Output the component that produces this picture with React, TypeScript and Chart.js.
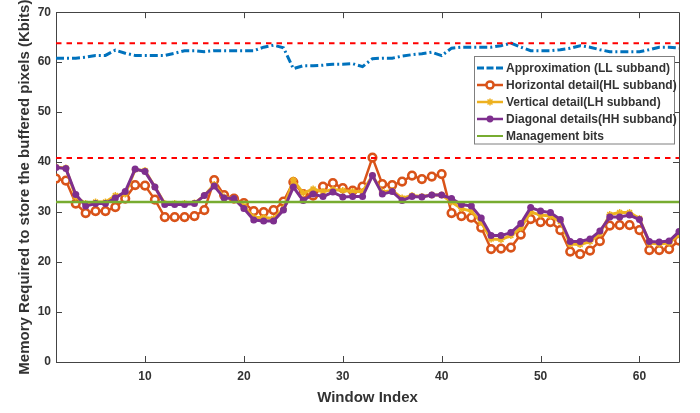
import React, { useEffect, useRef } from 'react';
import { Chart, registerables } from 'chart.js';

Chart.register(...registerables);

const windowIndex = [
  1, 2, 3, 4, 5, 6, 7, 8, 9, 10, 11, 12, 13, 14, 15, 16, 17, 18, 19, 20, 21, 22, 23, 24, 25, 26, 27, 28, 29, 30, 31, 32,
  33, 34, 35, 36, 37, 38, 39, 40, 41, 42, 43, 44, 45, 46, 47, 48, 49, 50, 51, 52, 53, 54, 55, 56, 57, 58, 59, 60, 61, 62, 63, 64,
];

const llValues = [
  60.8, 60.8, 60.8, 61.0, 61.35, 61.35, 62.4, 61.8, 61.35, 61.35, 61.35, 61.35, 61.8, 62.3, 62.3, 62.1,
  62.3, 62.3, 62.3, 62.3, 62.3, 63.0, 63.4, 62.9, 58.7, 59.3, 59.3, 59.4, 59.6, 59.6, 59.7, 59.1,
  60.7, 60.8, 60.8, 61.2, 61.5, 61.7, 62.0, 61.3, 62.8, 63.0, 63.0, 63.0, 63.0, 63.3, 63.8, 63.0,
  62.3, 62.3, 62.3, 62.5, 62.8, 63.3, 63.0, 62.5, 62.1, 62.1, 62.1, 62.1, 62.5, 63.0, 63.0, 62.8,
];

const hlValues = [
  36.7, 36.3, 31.7, 29.8, 30.2, 30.2, 31.0, 32.7, 35.4, 35.3, 32.5, 29.0, 29.0, 29.0, 29.2, 30.4,
  36.4, 33.4, 32.7, 31.8, 30.2, 30.0, 30.4, 32.1, 36.0, 33.6, 33.3, 35.1, 35.8, 34.8, 34.3, 35.1,
  40.9, 35.6, 35.4, 36.1, 37.3, 36.6, 37.1, 37.6, 29.8, 29.2, 28.9, 26.9, 22.6, 22.7, 22.9, 25.5,
  28.6, 28.0, 28.0, 26.4, 22.1, 21.6, 22.3, 24.2, 27.3, 27.4, 27.4, 26.4, 22.4, 22.4, 22.6, 24.3,
];

const lhValues = [
  39.0, 38.8, 33.0, 31.7, 32.0, 32.0, 33.3, 33.6, 38.5, 38.3, 35.0, 31.7, 31.7, 31.7, 31.8, 33.3,
  35.5, 33.0, 32.7, 31.2, 28.9, 28.9, 28.7, 30.7, 36.4, 33.8, 34.6, 34.1, 34.5, 34.3, 34.1, 34.1,
  37.3, 34.0, 34.3, 32.8, 33.3, 33.1, 33.4, 33.4, 32.0, 30.7, 30.2, 27.9, 24.6, 24.5, 25.3, 26.8,
  30.0, 29.4, 29.2, 28.1, 23.6, 23.5, 24.1, 25.7, 29.5, 29.9, 29.9, 28.7, 23.8, 23.6, 23.8, 25.5,
];

const hhValues = [
  38.9, 38.7, 33.5, 31.2, 31.7, 31.7, 32.8, 34.1, 38.6, 38.1, 35.0, 31.5, 31.5, 31.5, 31.7, 33.3,
  35.2, 32.8, 32.7, 30.7, 28.4, 28.2, 28.2, 30.4, 35.0, 32.3, 33.6, 33.1, 34.0, 33.0, 33.1, 33.1,
  37.3, 33.6, 34.1, 32.3, 33.1, 33.0, 33.4, 33.4, 32.7, 31.5, 31.2, 28.8, 25.3, 25.3, 25.9, 27.7,
  30.9, 30.2, 29.9, 28.5, 24.1, 24.1, 24.6, 26.2, 29.0, 29.0, 29.4, 28.5, 24.1, 24.0, 24.2, 26.1,
];

const managementBits = 32;
const upperLimit = 63.8;
const lowerLimit = 40.8;

const xTickValues = [10, 20, 30, 40, 50, 60];
const yTickValues = [0, 10, 20, 30, 40, 50, 60, 70];

const legendLabels = [
  'Approximation (LL subband)',
  'Horizontal detail(HL subband)',
  'Vertical detail(LH subband)',
  'Diagonal details(HH subband)',
  'Management bits',
];

const FONT = "'Liberation Sans', Arial, Helvetica, sans-serif";
const TEXT_COLOR = '#333333';
const AXIS_COLOR = '#444444';

const COLORS = {
  ll: '#0072BD',
  hl: '#D95319',
  lh: '#EDB120',
  hh: '#7E2F8E',
  mg: '#77AC30',
  red: '#FF0000',
};

const LL_DASH = [8, 3, 2, 3];

const framePlugin = {
  id: 'matlabFrame',
  beforeDatasetsDraw(chart: any) {
    const { ctx, chartArea, scales } = chart;
    const { left, right, top, bottom } = chartArea;
    const tl = 6;
    ctx.save();
    ctx.strokeStyle = AXIS_COLOR;
    ctx.lineWidth = 1;
    ctx.beginPath();
    ctx.rect(Math.round(left) + 0.5, Math.round(top) + 0.5, Math.round(right - left), Math.round(bottom - top));
    ctx.stroke();
    ctx.beginPath();
    xTickValues.forEach((v) => {
      const px = Math.round(scales.x.getPixelForValue(v)) + 0.5;
      ctx.moveTo(px, bottom);
      ctx.lineTo(px, bottom - tl);
      ctx.moveTo(px, top);
      ctx.lineTo(px, top + tl);
    });
    yTickValues.forEach((v) => {
      const py = Math.round(scales.y.getPixelForValue(v)) + 0.5;
      ctx.moveTo(left, py);
      ctx.lineTo(left + tl, py);
      ctx.moveTo(right, py);
      ctx.lineTo(right - tl, py);
    });
    ctx.stroke();
    ctx.restore();
  },
};

const legendPlugin = {
  id: 'boxLegend',
  afterDraw(chart: any) {
    const { ctx, chartArea } = chart;
    const bx = Math.round(chartArea.right) - 4.5;
    const by = Math.round(chartArea.top) + 44.5;
    const bw = 200;
    const bh = 87.5;
    const x0 = bx - bw;
    ctx.save();
    ctx.fillStyle = '#ffffff';
    ctx.fillRect(x0, by, bw, bh);
    ctx.strokeStyle = '#7f7f7f';
    ctx.lineWidth = 1;
    ctx.strokeRect(x0, by, bw, bh);

    const items = [
      { color: COLORS.ll, dash: [7, 2.5], width: 3, marker: 'none' },
      { color: COLORS.hl, dash: [], width: 2.5, marker: 'ring' },
      { color: COLORS.lh, dash: [], width: 2.5, marker: 'star' },
      { color: COLORS.hh, dash: [], width: 2.5, marker: 'dot' },
      { color: COLORS.mg, dash: [], width: 2, marker: 'none' },
    ];
    const lx1 = x0 + 2.5;
    const lx2 = x0 + 28.5;
    const mx = (lx1 + lx2) / 2;
    const tx = x0 + 31.5;
    ctx.font = `bold 12px ${FONT}`;
    ctx.textBaseline = 'middle';
    ctx.textAlign = 'left';
    items.forEach((it, k) => {
      const y = by + 11.5 + k * 17;
      ctx.strokeStyle = it.color;
      ctx.lineWidth = it.width;
      ctx.setLineDash(it.dash);
      ctx.beginPath();
      ctx.moveTo(lx1, y);
      ctx.lineTo(lx2, y);
      ctx.stroke();
      ctx.setLineDash([]);
      if (it.marker === 'ring') {
        ctx.beginPath();
        ctx.arc(mx, y, 3.6, 0, Math.PI * 2);
        ctx.fillStyle = '#ffffff';
        ctx.fill();
        ctx.lineWidth = 2.5;
        ctx.stroke();
      } else if (it.marker === 'dot') {
        ctx.beginPath();
        ctx.arc(mx, y, 3.4, 0, Math.PI * 2);
        ctx.fillStyle = it.color;
        ctx.fill();
      } else if (it.marker === 'star') {
        ctx.lineWidth = 1.5;
        const r = 3.5;
        ctx.beginPath();
        for (let a = 0; a < 4; a++) {
          const ang = (a * Math.PI) / 4;
          ctx.moveTo(mx - r * Math.cos(ang), y - r * Math.sin(ang));
          ctx.lineTo(mx + r * Math.cos(ang), y + r * Math.sin(ang));
        }
        ctx.stroke();
      }
      ctx.fillStyle = TEXT_COLOR;
      ctx.fillText(legendLabels[k], tx, y + 0.5);
    });
    ctx.restore();
  },
};

export default function App() {
  const canvasRef = useRef<HTMLCanvasElement | null>(null);

  useEffect(() => {
    document.body.style.margin = '0';
    const canvas = canvasRef.current;
    if (!canvas) return;

    const constLine = (v: number) => windowIndex.map(() => v);

    const chart = new Chart(canvas, {
      type: 'line',
      data: {
        labels: windowIndex,
        datasets: [
          {
            label: 'upper',
            data: constLine(upperLimit),
            borderColor: COLORS.red,
            borderWidth: 2,
            borderDash: [5.5, 5],
            pointRadius: 0,
            order: 0,
          },
          {
            label: 'lower',
            data: constLine(lowerLimit),
            borderColor: COLORS.red,
            borderWidth: 2,
            borderDash: [5.5, 5],
            pointRadius: 0,
            order: 0,
          },
          {
            label: legendLabels[4],
            data: constLine(managementBits),
            borderColor: COLORS.mg,
            borderWidth: 2.5,
            pointRadius: 0,
            order: 1,
          },
          {
            label: legendLabels[3],
            data: hhValues,
            borderColor: COLORS.hh,
            backgroundColor: COLORS.hh,
            borderWidth: 3,
            pointRadius: 3.5,
            pointStyle: 'circle',
            pointBorderWidth: 0,
            pointBackgroundColor: COLORS.hh,
            order: 2,
          },
          {
            label: legendLabels[2],
            data: lhValues,
            borderColor: COLORS.lh,
            borderWidth: 3,
            pointRadius: 3.5,
            pointStyle: 'star',
            pointBorderWidth: 1.5,
            pointBorderColor: COLORS.lh,
            order: 3,
          },
          {
            label: legendLabels[1],
            data: hlValues,
            borderColor: COLORS.hl,
            borderWidth: 2.5,
            pointRadius: 3.8,
            pointStyle: 'circle',
            pointBorderWidth: 2.6,
            pointBorderColor: COLORS.hl,
            pointBackgroundColor: '#ffffff',
            order: 4,
          },
          {
            label: legendLabels[0],
            data: llValues,
            borderColor: COLORS.ll,
            borderWidth: 3,
            borderDash: LL_DASH,
            pointRadius: 0,
            order: 5,
          },
        ],
      },
      options: {
        responsive: false,
        animation: false,
        events: [],
        layout: { padding: { top: 8, right: 21, left: 0, bottom: 0 } },
        elements: { line: { tension: 0 } },
        plugins: {
          legend: { display: false },
          tooltip: { enabled: false },
        },
        scales: {
          x: {
            type: 'linear',
            min: 1,
            max: 64,
            grid: { display: false, drawTicks: false },
            border: { display: false },
            afterBuildTicks: (scale: any) => {
              scale.ticks = xTickValues.map((v) => ({ value: v }));
            },
            afterFit: (scale: any) => {
              scale.height = 51;
            },
            ticks: {
              autoSkip: false,
              maxRotation: 0,
              padding: 7,
              color: TEXT_COLOR,
              font: { family: FONT, size: 12, weight: 'bold' },
            },
            title: {
              display: true,
              text: 'Window Index',
              color: TEXT_COLOR,
              font: { family: FONT, size: 15, weight: 'bold' },
              padding: { top: 0, bottom: 6 },
            },
          },
          y: {
            type: 'linear',
            min: 0,
            max: 70,
            grid: { display: false, drawTicks: false },
            border: { display: false },
            afterBuildTicks: (scale: any) => {
              scale.ticks = yTickValues.map((v) => ({ value: v }));
            },
            afterFit: (scale: any) => {
              scale.width = 56;
            },
            ticks: {
              padding: 5,
              color: TEXT_COLOR,
              font: { family: FONT, size: 12, weight: 'bold' },
            },
            title: {
              display: true,
              text: 'Memory Required to store the buffered pixels (Kbits)',
              color: TEXT_COLOR,
              font: { family: FONT, size: 15, weight: 'bold' },
              padding: { top: 16, bottom: 0 },
            },
          },
        },
      },
      plugins: [framePlugin, legendPlugin],
    } as any);

    return () => {
      chart.destroy();
    };
  }, []);

  return (
    <div style={{ width: 700, height: 413 }}>
      <canvas ref={canvasRef} width={700} height={413} style={{ display: 'block', width: 700, height: 413 }} />
    </div>
  );
}
